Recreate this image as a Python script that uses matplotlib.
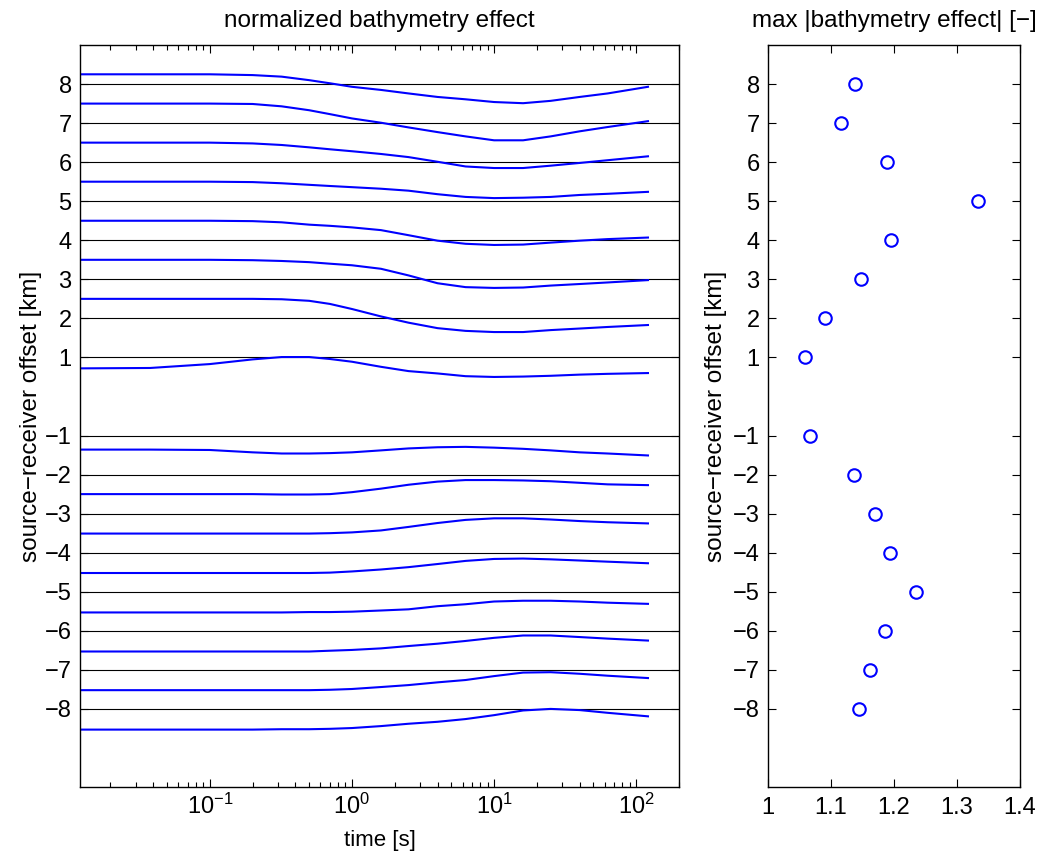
import matplotlib
matplotlib.use("Agg")
import matplotlib.pyplot as plt
from matplotlib.ticker import LogLocator, NullFormatter

plt.rcParams['font.family'] = ['Liberation Sans', 'DejaVu Sans']
plt.rcParams['mathtext.default'] = 'regular'

# time samples [s]
time_s = [0.0122, 0.038, 0.1, 0.2, 0.32, 0.5, 0.7, 1.0, 1.6, 2.5, 4.0, 6.3,
          10, 16, 25, 40, 63, 121]

offsets = [8, 7, 6, 5, 4, 3, 2, 1, -1, -2, -3, -4, -5, -6, -7, -8]

trace_p8 = [8.25, 8.25, 8.25, 8.23, 8.19, 8.10, 8.02, 7.93, 7.85, 7.76, 7.67, 7.61, 7.54, 7.51, 7.57, 7.67, 7.76, 7.93]
trace_p7 = [7.50, 7.50, 7.50, 7.49, 7.43, 7.33, 7.23, 7.12, 7.01, 6.89, 6.77, 6.66, 6.56, 6.56, 6.66, 6.79, 6.90, 7.05]
trace_p6 = [6.50, 6.50, 6.50, 6.48, 6.44, 6.38, 6.33, 6.28, 6.21, 6.13, 6.01, 5.89, 5.85, 5.85, 5.91, 5.98, 6.05, 6.15]
trace_p5 = [5.50, 5.50, 5.50, 5.49, 5.46, 5.42, 5.39, 5.36, 5.32, 5.27, 5.18, 5.11, 5.08, 5.09, 5.11, 5.16, 5.19, 5.24]
trace_p4 = [4.50, 4.50, 4.50, 4.49, 4.46, 4.40, 4.37, 4.33, 4.26, 4.13, 3.99, 3.91, 3.88, 3.89, 3.94, 3.99, 4.03, 4.07]
trace_p3 = [3.50, 3.50, 3.50, 3.49, 3.47, 3.44, 3.40, 3.36, 3.27, 3.10, 2.90, 2.80, 2.78, 2.79, 2.84, 2.88, 2.92, 2.98]
trace_p2 = [2.50, 2.50, 2.50, 2.50, 2.49, 2.45, 2.37, 2.24, 2.05, 1.89, 1.75, 1.68, 1.65, 1.65, 1.70, 1.74, 1.78, 1.83]
trace_p1 = [0.72, 0.73, 0.83, 0.95, 1.01, 1.01, 0.96, 0.89, 0.76, 0.65, 0.59, 0.52, 0.50, 0.51, 0.53, 0.56, 0.58, 0.60]
trace_m1 = [-1.36, -1.36, -1.37, -1.43, -1.46, -1.46, -1.45, -1.43, -1.38, -1.33, -1.30, -1.29, -1.31, -1.34, -1.38, -1.43, -1.46, -1.51]
trace_m2 = [-2.50, -2.50, -2.50, -2.50, -2.51, -2.51, -2.50, -2.45, -2.36, -2.26, -2.18, -2.14, -2.14, -2.15, -2.17, -2.21, -2.25, -2.27]
trace_m3 = [-3.51, -3.51, -3.51, -3.51, -3.51, -3.51, -3.50, -3.48, -3.43, -3.34, -3.24, -3.16, -3.12, -3.12, -3.15, -3.19, -3.22, -3.25]
trace_m4 = [-4.52, -4.52, -4.52, -4.52, -4.52, -4.52, -4.51, -4.48, -4.43, -4.37, -4.29, -4.21, -4.16, -4.15, -4.17, -4.20, -4.23, -4.27]
trace_m5 = [-5.53, -5.53, -5.53, -5.53, -5.53, -5.52, -5.52, -5.51, -5.48, -5.45, -5.37, -5.32, -5.25, -5.23, -5.23, -5.25, -5.28, -5.31]
trace_m6 = [-6.53, -6.53, -6.53, -6.53, -6.53, -6.53, -6.51, -6.49, -6.45, -6.39, -6.33, -6.26, -6.18, -6.12, -6.12, -6.16, -6.20, -6.25]
trace_m7 = [-7.52, -7.52, -7.52, -7.52, -7.52, -7.52, -7.51, -7.49, -7.44, -7.39, -7.32, -7.26, -7.16, -7.07, -7.06, -7.10, -7.15, -7.21]
trace_m8 = [-8.53, -8.53, -8.53, -8.53, -8.52, -8.52, -8.51, -8.49, -8.44, -8.38, -8.33, -8.26, -8.16, -8.04, -8.00, -8.03, -8.10, -8.19]

traces = [trace_p8, trace_p7, trace_p6, trace_p5, trace_p4, trace_p3, trace_p2, trace_p1,
          trace_m1, trace_m2, trace_m3, trace_m4, trace_m5, trace_m6, trace_m7, trace_m8]

max_effect = [1.138, 1.116, 1.189, 1.334, 1.196, 1.147, 1.090, 1.059,
              1.067, 1.136, 1.170, 1.193, 1.235, 1.185, 1.162, 1.145]

TICK_FS = 17
TITLE_FS = 17.5
fig = plt.figure(figsize=(10.47, 8.59), dpi=100)
ax1 = fig.add_axes([0.0764, 0.0838, 0.5721, 0.8638])
ax2 = fig.add_axes([0.7335, 0.0838, 0.2407, 0.8638])

for off in offsets:
    ax1.axhline(off, color='k', lw=0.8, zorder=1)
for tr in traces:
    ax1.plot(time_s, tr, color=(0, 0, 1), lw=1.5, zorder=2, solid_joinstyle='round')

ax1.set_xscale('log')
ax1.set_xlim(0.0122, 200)
ax1.set_ylim(-10, 9)
ax1.set_yticks(sorted(offsets))
ax1.xaxis.set_major_locator(LogLocator(base=10, numticks=10))
ax1.xaxis.set_minor_locator(LogLocator(base=10, subs=range(2, 10), numticks=50))
ax1.xaxis.set_minor_formatter(NullFormatter())
ax1.set_title('normalized bathymetry effect', fontsize=TITLE_FS, pad=13)
ax1.set_xlabel('time [s]', fontsize=16, labelpad=8)
ax1.set_ylabel('source\u2212receiver offset [km]', fontsize=17.5, labelpad=2)

ax2.plot(max_effect, offsets, 'o', mfc='none', mec=(0, 0, 1), ms=9, mew=1.5, ls='none')
ax2.set_xlim(1, 1.4)
ax2.set_ylim(-10, 9)
ax2.set_xticks([1, 1.1, 1.2, 1.3, 1.4])
ax2.set_xticklabels(['1', '1.1', '1.2', '1.3', '1.4'])
ax2.set_yticks(sorted(offsets))
ax2.set_title('max |bathymetry effect| [\u2212]', fontsize=TITLE_FS, pad=13)
ax2.set_ylabel('source\u2212receiver offset [km]', fontsize=17.5, labelpad=4)

for ax in (ax1, ax2):
    ax.tick_params(which='both', direction='in', top=True, right=True, labelsize=TICK_FS)
    ax.tick_params(which='major', length=6, width=0.8)
    ax.tick_params(which='minor', length=3.5, width=0.8)
    for s in ax.spines.values():
        s.set_linewidth(1.0)
ax1.tick_params(axis='x', pad=5)
ax2.tick_params(axis='x', pad=7)
ax1.tick_params(axis='y', pad=6)
ax2.tick_params(axis='y', pad=6)

fig.savefig('out.png', dpi=100)
